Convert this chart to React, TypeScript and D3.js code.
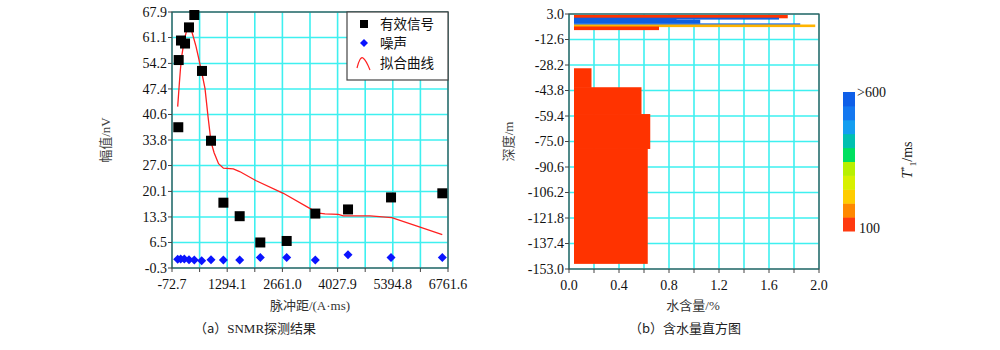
import * as d3 from "d3";

// (a) SNMR data
const signalX = [83, 93, 150, 250, 348, 480, 670, 893, 1200, 1603, 2114, 2767, 3476, 4286, 5351, 6621];
const signalY = [37.2, 55.1, 60.3, 59.5, 63.8, 67.1, 52.2, 33.6, 17.1, 13.5, 6.5, 6.9, 14.2, 15.3, 18.5, 19.6];
const noiseX = [68, 143, 232, 348, 480, 662, 893, 1200, 1603, 2114, 2767, 3476, 4286, 5351, 6621];
const noiseY = [2.0, 2.1, 2.1, 1.9, 1.8, 1.6, 1.9, 1.8, 1.8, 2.5, 2.5, 1.8, 3.2, 2.5, 2.5];
const fitX = [68, 90, 110, 135, 167, 210, 250, 300, 348, 400, 455, 520, 579, 660, 745, 820, 893, 970, 1080, 1200, 1445, 1603, 2000, 2684, 3370, 3510, 3715, 4045, 4170, 4830, 5370, 6070, 6620];
const fitY = [42.7, 46.0, 49.0, 52.5, 56.0, 59.0, 61.3, 63.3, 64.2, 63.3, 61.3, 58.8, 56.0, 52.0, 47.5, 40.0, 33.3, 30.4, 27.5, 26.3, 26.1, 25.4, 23.0, 19.6, 15.4, 14.4, 14.1, 14.0, 13.6, 13.6, 13.1, 10.6, 8.6];
const xTicksA = [-72.7, 1294.1, 2661.0, 4027.9, 5394.8, 6761.6];
const yTicksA = [-0.3, 6.5, 13.3, 20.1, 27.0, 33.8, 40.6, 47.4, 54.2, 61.1, 67.9];
const legendLabels = ["有效信号", "噪声", "拟合曲线"];

// (b) water content histogram
const layerTop = [2.4, 0.74, -0.06, -0.49, -2.69, -3.43, -4.65, -30.2, -41.8, -58.2, -79.2];
const layerBottom = [0.74, -0.06, -0.49, -2.69, -3.43, -4.65, -6.49, -41.8, -58.2, -79.2, -149.5];
const layerWater = [1.75, 1.68, 0.86, 1.05, 1.85, 1.97, 0.72, 0.18, 0.58, 0.65, 0.63];
const layerColor = ["#ff3300", "#1060e0", "#1060e0", "#1060e0", "#2a78ee", "#ffb400", "#ff3300", "#ff3300", "#ff3300", "#ff3300", "#ff3300"];
const waterStart = 0.04;
const xTicksB = [0.0, 0.4, 0.8, 1.2, 1.6, 2.0];
const yTicksB = [3.0, -12.6, -28.2, -43.8, -59.4, -75.0, -90.6, -106.2, -121.8, -137.4, -153.0];
const colorbarColors = ["#ff3a10", "#ff8800", "#ffcc00", "#d8f000", "#b8f000", "#00e060", "#00c0b0", "#149ef0", "#1478f0", "#0f5fe8"];

const SERIF = "'Liberation Serif', 'DejaVu Serif', serif";
const CJK = "'Noto Sans CJK SC', 'Noto Sans CJK JP', sans-serif";
const GRID = "#3ef0f0";
const FRAME = "#444";

const A = { left: 172, right: 448, top: 12, bottom: 268 };
const B = { left: 569, right: 819, top: 14, bottom: 269 };

export default function App() {
  const xA = d3.scaleLinear().domain([-72.7, 6761.6]).range([A.left, A.right]);
  const yA = d3.scaleLinear().domain([-0.3, 67.9]).range([A.bottom, A.top]);
  const xGridA = d3.range(11).map(i => -72.7 + i * (6761.6 + 72.7) / 10);

  const xB = d3.scaleLinear().domain([0, 2.0]).range([B.left, B.right]);
  const yB = d3.scaleLinear().domain([-153, 3]).range([B.bottom, B.top]);
  const xGridB = d3.range(11).map(i => i * 0.2);

  const fitLine = d3.line<number>()
    .x((d, i) => xA(fitX[i]))
    .y(d => yA(d));

  const cb = d3.scaleBand<number>().domain(d3.range(10)).range([231, 92]);

  return (
    <svg width={1000} height={350} style={{ position: "absolute", left: 0, top: 0, background: "#fff" }}>
      {/* ---- chart (a) ---- */}
      <g>
        {xGridA.map((v, i) => (
          <line key={"gx" + i} x1={xA(v)} x2={xA(v)} y1={A.top} y2={A.bottom} stroke={GRID} strokeWidth={1.6} />
        ))}
        {yTicksA.map((v, i) => (
          <line key={"gy" + i} x1={A.left} x2={A.right} y1={yA(v)} y2={yA(v)} stroke={GRID} strokeWidth={1.6} />
        ))}
        <rect x={A.left} y={A.top} width={A.right - A.left} height={A.bottom - A.top} fill="none" stroke={FRAME} strokeWidth={1.2} />
        {yTicksA.map((v, i) => (
          <g key={"ty" + i}>
            <line x1={A.left - 4} x2={A.left} y1={yA(v)} y2={yA(v)} stroke={FRAME} />
            <text x={A.left - 5} y={yA(v)} dy="0.35em" textAnchor="end" fontSize={14} fill="#111" fontFamily={SERIF}>{v.toFixed(1)}</text>
          </g>
        ))}
        {xGridA.map((v, i) => (
          <line key={"tx" + i} x1={xA(v)} x2={xA(v)} y1={A.bottom} y2={A.bottom + 4} stroke={FRAME} />
        ))}
        {xTicksA.map((v, i) => (
          <text key={"lx" + i} x={xA(v)} y={A.bottom + 21} textAnchor="middle" fontSize={14} fill="#111" fontFamily={SERIF}>{v.toFixed(1)}</text>
        ))}

        <path d={fitLine(fitY) || ""} fill="none" stroke="#ff2020" strokeWidth={1.3} />
        {signalX.map((v, i) => (
          <rect key={"s" + i} x={xA(v) - 5} y={yA(signalY[i]) - 5} width={10} height={10} fill="#000" />
        ))}
        {noiseX.map((v, i) => (
          <path key={"n" + i} transform={`translate(${xA(v)},${yA(noiseY[i])})`} d="M0,-4.5L4.5,0L0,4.5L-4.5,0Z" fill="#0a14ff" />
        ))}

        {/* legend */}
        <rect x={347} y={A.top} width={A.right - 347} height={68} fill="#fff" stroke={FRAME} strokeWidth={1.2} />
        <rect x={360} y={20} width={8} height={8} fill="#000" />
        <path transform="translate(364,43)" d="M0,-4L4,0L0,4L-4,0Z" fill="#0a14ff" />
        <path d="M357,68 Q360,56 363,58 Q366,60 370,70" fill="none" stroke="#ff2020" strokeWidth={1.2} />
        {legendLabels.map((t, i) => (
          <text key={"lg" + i} x={380} y={24 + i * 19.5} dy="0.35em" fontSize={13.5} fill="#111" fontFamily={CJK}>{t}</text>
        ))}

        <text transform={`translate(110,${(A.top + A.bottom) / 2}) rotate(-90)`} textAnchor="middle" fontSize={13} fill="#444" fontFamily={SERIF}>
          <tspan fontFamily={CJK}>幅值</tspan>/nV
        </text>
        <text x={310} y={310} textAnchor="middle" fontSize={13} fill="#333" fontFamily={SERIF}>
          <tspan fontFamily={CJK}>脉冲距</tspan>/(A·ms)
        </text>
        <text x={255} y={333} textAnchor="middle" fontSize={13} fill="#222" fontFamily={SERIF}>
          <tspan fontFamily={CJK}>（a）</tspan>SNMR<tspan fontFamily={CJK}>探测结果</tspan>
        </text>
      </g>

      {/* ---- chart (b) ---- */}
      <g>
        {xGridB.map((v, i) => (
          <line key={"bgx" + i} x1={xB(v)} x2={xB(v)} y1={B.top} y2={B.bottom} stroke={GRID} strokeWidth={1.6} />
        ))}
        {yTicksB.map((v, i) => (
          <line key={"bgy" + i} x1={B.left} x2={B.right} y1={yB(v)} y2={yB(v)} stroke={GRID} strokeWidth={1.6} />
        ))}
        {layerTop.map((t, i) => (
          <rect key={"L" + i} x={xB(waterStart)} y={yB(t)} width={xB(layerWater[i]) - xB(waterStart)}
            height={yB(layerBottom[i]) - yB(t) + 0.6} fill={layerColor[i]} />
        ))}
        <rect x={B.left} y={B.top} width={B.right - B.left} height={B.bottom - B.top} fill="none" stroke={FRAME} strokeWidth={1.2} />
        {yTicksB.map((v, i) => (
          <g key={"bty" + i}>
            <line x1={B.left - 4} x2={B.left} y1={yB(v)} y2={yB(v)} stroke={FRAME} />
            <text x={B.left - 5} y={yB(v)} dy="0.35em" textAnchor="end" fontSize={14} fill="#111" fontFamily={SERIF}>{v.toFixed(1)}</text>
          </g>
        ))}
        {xGridB.map((v, i) => (
          <line key={"btx" + i} x1={xB(v)} x2={xB(v)} y1={B.bottom} y2={B.bottom + 4} stroke={FRAME} />
        ))}
        {xTicksB.map((v, i) => (
          <text key={"blx" + i} x={xB(v)} y={B.bottom + 21} textAnchor="middle" fontSize={14} fill="#111" fontFamily={SERIF}>{v.toFixed(1)}</text>
        ))}

        {/* colour bar */}
        {colorbarColors.map((c, i) => (
          <rect key={"cb" + i} x={843} y={cb(i)} width={12} height={cb.bandwidth() + 0.5} fill={c} />
        ))}
        <text x={857} y={97} fontSize={14} fill="#111" fontFamily={SERIF}>&gt;600</text>
        <text x={859} y={233} fontSize={14} fill="#111" fontFamily={SERIF}>100</text>
        <text transform="translate(912,160) rotate(-90)" textAnchor="middle" fontSize={14} fill="#111" fontFamily={SERIF}>
          <tspan fontStyle="italic">T</tspan>
          <tspan dy={-5} fontSize={9}>*</tspan>
          <tspan dy={9} fontSize={9}>1</tspan>
          <tspan dy={-4}>/ms</tspan>
        </text>

        <text transform={`translate(513,${(B.top + B.bottom) / 2}) rotate(-90)`} textAnchor="middle" fontSize={13} fill="#444" fontFamily={SERIF}>
          <tspan fontFamily={CJK}>深度</tspan>/m
        </text>
        <text x={693} y={310} textAnchor="middle" fontSize={13} fill="#333" fontFamily={SERIF}>
          <tspan fontFamily={CJK}>水含量</tspan>/%
        </text>
        <text x={685} y={333} textAnchor="middle" fontSize={13} fill="#222" fontFamily={CJK}>（b）含水量直方图</text>
      </g>
    </svg>
  );
}
